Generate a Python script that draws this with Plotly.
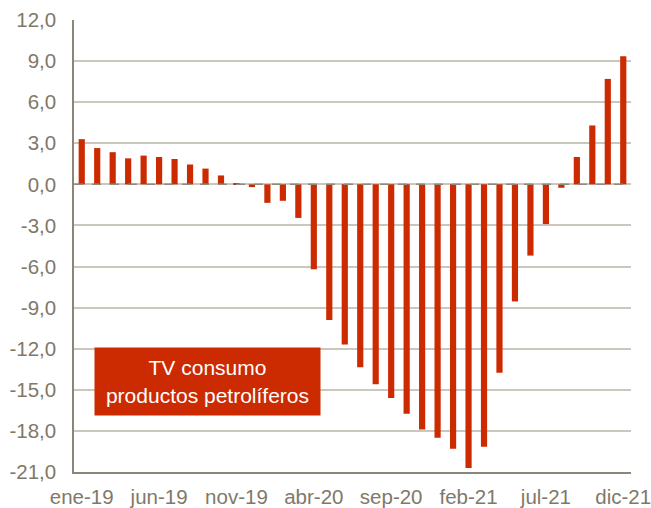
import plotly.graph_objects as go

months = ["ene", "feb", "mar", "abr", "may", "jun", "jul", "ago", "sep", "oct", "nov", "dic"]
years = ["19", "20", "21"]
categories = [f"{m}-{y}" for y in years for m in months]

values_2019 = [3.3, 2.65, 2.35, 1.9, 2.1, 2.0, 1.85, 1.45, 1.15, 0.65, 0.05, -0.2]
values_2020 = [-1.35, -1.2, -2.45, -6.2, -9.9, -11.7, -13.35, -14.6, -15.6, -16.75, -17.9, -18.5]
values_2021 = [-19.3, -20.7, -19.15, -13.75, -8.55, -5.2, -2.9, -0.25, 2.0, 4.3, 7.7, 9.35]
values = values_2019 + values_2020 + values_2021

tick_labels = ["ene-19", "jun-19", "nov-19", "abr-20", "sep-20", "feb-21", "jul-21", "dic-21"]
y_ticks = [-21, -18, -15, -12, -9, -6, -3, 0, 3, 6, 9, 12]
y_tick_text = [f"{v:.1f}".replace(".", ",") for v in y_ticks]

RED = "#CC2A00"
TEXT = "#7F7969"
GRID = "#CBC7BC"
AXIS = "#8C8676"
FONT = "Liberation Sans, Arial"

fig = go.Figure(go.Bar(x=categories, y=values, marker=dict(color=RED, line=dict(width=0))))

fig.add_shape(type="line", xref="paper", yref="y", x0=0, x1=1, y0=0, y1=0,
              line=dict(color="#8F8A7B", width=1.5, dash="dash"))

fig.add_annotation(xref="paper", yref="paper", x=0.24, y=0.2, xanchor="center", yanchor="middle",
                   text="TV consumo<br>productos petrolíferos", showarrow=False,
                   bgcolor=RED, font=dict(color="white", size=21, family=FONT),
                   width=225, height=67, borderpad=0, align="center", valign="middle")

fig.update_layout(
    width=651, height=508,
    margin=dict(l=74, r=20, t=20, b=36),
    paper_bgcolor="white", plot_bgcolor="white",
    bargap=0.6, showlegend=False,
    font=dict(family=FONT, size=20.5, color=TEXT),
    xaxis=dict(type="category", tickmode="array", tickvals=tick_labels, ticktext=tick_labels,
               showgrid=False, showline=True, linecolor=AXIS, linewidth=1.5,
               ticks="", ticklabelstandoff=6, tickangle=0, automargin=False,
               tickfont=dict(size=20.5, color=TEXT, family=FONT)),
    yaxis=dict(range=[-21, 12], tickmode="array", tickvals=y_ticks, ticktext=y_tick_text,
               showgrid=True, gridcolor=GRID, gridwidth=1.5, zeroline=False,
               showline=True, linecolor=AXIS, linewidth=1.5,
               ticks="", ticklabelstandoff=12, automargin=False,
               tickfont=dict(size=20.5, color=TEXT, family=FONT)),
)

fig.write_html(
    "out.html",
    config={"displayModeBar": False},
    post_script="document.body.style.margin='0';document.body.style.overflow='hidden';",
)
